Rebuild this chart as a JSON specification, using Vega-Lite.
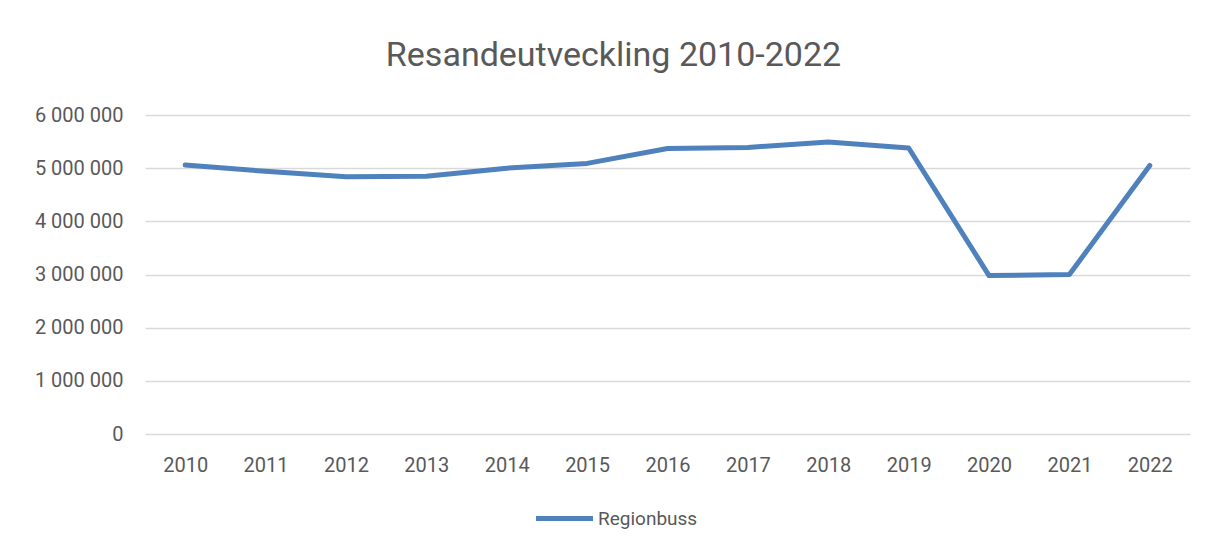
{
  "$schema": "https://vega.github.io/schema/vega-lite/v6.json",
  "width": 1045,
  "height": 319,
  "autosize": "none",
  "padding": {"left": 145, "top": 115, "right": 18, "bottom": 114},
  "background": "white",
  "title": {
    "text": "Resandeutveckling 2010-2022",
    "anchor": "middle",
    "dx": -54,
    "offset": 32,
    "font": "Roboto",
    "fontSize": 34,
    "fontWeight": "normal",
    "color": "#595959"
  },
  "data": {
    "values": [
      {"year": "2010", "series": "Regionbuss", "value": 5060000},
      {"year": "2011", "series": "Regionbuss", "value": 4940000},
      {"year": "2012", "series": "Regionbuss", "value": 4840000},
      {"year": "2013", "series": "Regionbuss", "value": 4850000},
      {"year": "2014", "series": "Regionbuss", "value": 5000000},
      {"year": "2015", "series": "Regionbuss", "value": 5090000},
      {"year": "2016", "series": "Regionbuss", "value": 5370000},
      {"year": "2017", "series": "Regionbuss", "value": 5390000},
      {"year": "2018", "series": "Regionbuss", "value": 5490000},
      {"year": "2019", "series": "Regionbuss", "value": 5380000},
      {"year": "2020", "series": "Regionbuss", "value": 2980000},
      {"year": "2021", "series": "Regionbuss", "value": 3000000},
      {"year": "2022", "series": "Regionbuss", "value": 5050000}
    ]
  },
  "mark": {"type": "line", "strokeWidth": 5, "strokeCap": "round", "strokeJoin": "round"},
  "encoding": {
    "x": {
      "field": "year",
      "type": "ordinal",
      "scale": {"type": "point", "padding": 0.5},
      "axis": {"title": null, "labelAngle": 0, "ticks": false, "domain": false, "grid": false, "labelPadding": 21, "labelFontSize": 20, "labelColor": "#595959", "labelFont": "Roboto"}
    },
    "y": {
      "field": "value",
      "type": "quantitative",
      "scale": {"domain": [0, 6000000]},
      "axis": {"title": null, "values": [0, 1000000, 2000000, 3000000, 4000000, 5000000, 6000000], "labelExpr": "replace(format(datum.value, ','), /,/g, ' ')", "ticks": false, "domain": false, "gridColor": "#d9d9d9", "gridWidth": 1.3, "labelPadding": 22, "labelFontSize": 20, "labelColor": "#595959", "labelFont": "Roboto"}
    },
    "color": {
      "field": "series",
      "type": "nominal",
      "scale": {"range": ["#4f81bd"]},
      "legend": {
        "title": null,
        "orient": "none",
        "legendX": 388,
        "legendY": 372,
        "direction": "horizontal",
        "symbolType": "stroke",
        "symbolSize": 3250,
        "symbolStrokeWidth": 5,
        "labelFontSize": 19,
        "labelColor": "#595959",
        "labelFont": "Roboto",
        "labelOffset": 2
      }
    }
  },
  "config": {
    "view": {"stroke": null}
  }
}
